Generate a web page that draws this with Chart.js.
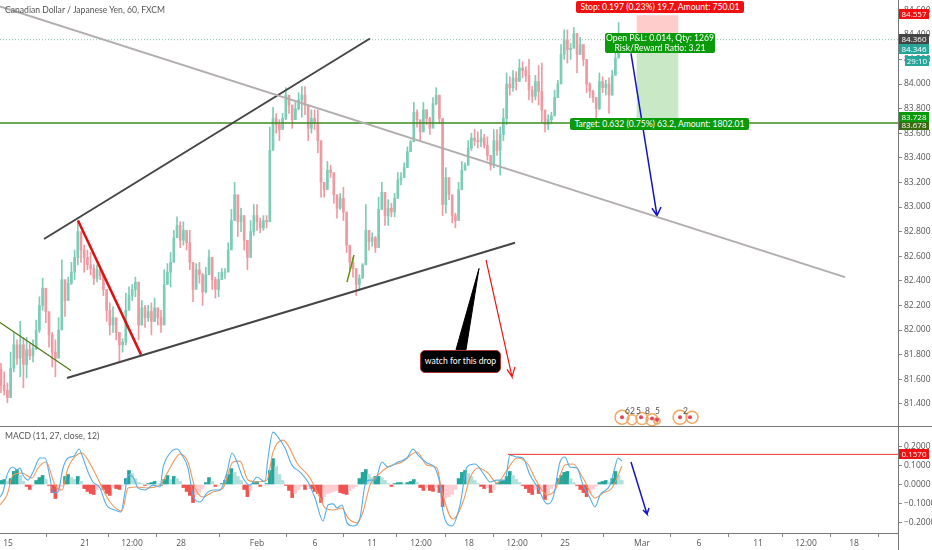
<!DOCTYPE html>
<html>
<head>
<meta charset="utf-8">
<title>CADJPY</title>
<script src="https://cdn.jsdelivr.net/npm/chart.js@4"></script>
<style>
  html, body { margin: 0; padding: 0; background: #fff; width: 932px; height: 550px; overflow: hidden; }
  body { font-family: "Lato", sans-serif; position: relative; }
  canvas { position: absolute; left: 0; }
  #priceChart { top: 0; }
  #macdChart { top: 426px; }
  .frame { position: absolute; background: #777; }
  .legend { position: absolute; left: 5px; font-size: 8.6px; color: #555; white-space: nowrap; }
  .note { position: absolute; color: #fff; text-align: center; font-size: 8.6px; line-height: 10px; border-radius: 2px; white-space: nowrap; }
  .tag { position: absolute; left: 899px; width: 30px; color: #fff; text-align: center; font-family: "Open Sans", sans-serif; font-size: 8px; line-height: 10px; height: 10px; }
  .evt { position: absolute; top: 406px; font-size: 8.5px; color: #555; }
  #callout { position: absolute; left: 420px; top: 350px; width: 79px; height: 21px; line-height: 21px; background: #000; border: 1px solid #a33; border-radius: 5px; color: #fff; font-size: 8.6px; text-align: center; box-sizing: content-box; }
</style>
</head>
<body>
<canvas id="priceChart" width="932" height="426"></canvas>
<canvas id="macdChart" width="932" height="124"></canvas>

<div class="frame" style="left:0;top:426px;width:932px;height:1px"></div>
<div class="frame" style="left:0;top:533px;width:898px;height:1px"></div>
<div class="frame" style="left:898px;top:0;width:1px;height:550px"></div>

<div class="legend" style="top:5px">Canadian Dollar / Japanese Yen, 60, FXCM</div>
<div class="legend" style="top:431px">MACD (11, 27, close, 12)</div>

<div class="note" style="left:576px;top:1px;width:168px;height:12px;line-height:12px;background:#f01010">Stop: 0.197 (0.23%) 19.7, Amount: 750.01</div>
<div class="note" style="left:605px;top:33px;width:110px;height:20px;background:#0a9a0a">Open P&amp;L: 0.014, Qty: 1269<br>Risk/Reward Ratio: 3.21</div>
<div class="note" style="left:570px;top:118px;width:179px;height:12px;line-height:12px;background:#0a9a0a">Target: 0.632 (0.75%) 63.2, Amount: 1802.01</div>

<div class="tag" style="top:9px;background:#f01010">84.557</div>
<div class="tag" style="top:34px;background:#444">84.360</div>
<div class="tag" style="top:44px;background:#26a69a">84.346</div>
<div class="tag" style="top:56px;left:905px;width:24px;background:#26a69a">29:10</div>
<div class="tag" style="top:120px;background:#3a6a10">83.678</div>
<div class="tag" style="top:112px;background:#0a9a0a">83.728</div>
<div class="tag" style="top:449px;background:#f01010">0.1570</div>

<div id="callout">watch for this drop</div>

<div class="evt" style="left:625px">6</div>
<div class="evt" style="left:630px">2</div>
<div class="evt" style="left:636px">5</div>
<div class="evt" style="left:645px">8</div>
<div class="evt" style="left:655px">5</div>
<div class="evt" style="left:683px">2</div>

<script>
// candles, one every 3.2 units along the session axis
const highs = [
  81.73,81.66,81.57,81.82,81.98,81.92,82.07,81.94,81.94,81.89,
  81.92,82.08,82.27,82.42,82.28,82.08,81.98,81.92,82.10,82.57,
  82.37,82.43,82.55,82.65,82.89,82.77,82.69,82.65,82.63,82.53,
  82.53,82.51,82.45,82.24,82.22,82.19,82.08,81.98,81.93,82.30,
  82.35,82.37,82.43,82.20,82.24,82.20,82.20,82.22,82.26,82.18,
  82.16,82.49,82.54,82.63,82.81,82.92,82.88,82.88,82.77,82.81,
  82.46,82.54,82.55,82.46,82.51,82.65,82.51,82.43,82.47,82.50,
  82.50,82.71,82.98,83.20,82.99,82.99,82.93,82.71,82.89,83.02,
  83.02,82.91,82.93,82.93,83.65,83.81,83.76,83.71,83.76,83.97,
  83.89,83.79,83.85,83.93,83.98,83.98,83.76,83.79,83.79,83.79,
  83.38,83.20,83.37,83.34,83.24,83.06,83.11,83.16,82.84,82.63,
  82.59,82.46,82.45,82.54,83.02,82.79,82.79,82.76,83.08,83.20,
  83.10,83.06,83.03,83.11,83.28,83.28,83.36,83.49,83.54,83.85,
  83.79,83.68,83.85,83.79,83.73,83.89,83.97,83.77,83.71,83.32,
  83.16,83.06,82.95,83.20,83.37,83.36,83.54,83.60,83.63,83.61,
  83.63,83.59,83.57,83.42,83.63,83.63,83.65,83.80,84.09,84.06,
  84.11,84.10,84.20,84.18,84.14,84.20,83.98,84.07,84.15,84.17,
  83.72,83.75,83.77,83.95,84.03,84.32,84.44,84.44,84.33,84.46,
  84.41,84.38,84.32,84.14,84.01,83.95,83.89,84.09,84.06,84.03,
  84.05,84.11,84.25,84.50];
const lows = [
  81.49,81.47,81.41,81.47,81.66,81.72,81.62,81.53,81.61,81.76,
  81.74,81.84,81.98,82.16,82.06,81.86,81.70,81.62,81.84,82.04,
  82.11,82.28,82.37,82.41,82.53,82.55,82.47,82.49,82.45,82.37,
  82.39,82.41,82.28,82.07,81.96,81.98,81.92,81.74,81.82,81.88,
  82.20,82.24,82.27,81.92,82.04,82.02,82.07,81.96,82.07,82.04,
  81.98,82.16,82.37,82.35,82.61,82.77,82.67,82.69,82.65,82.49,
  82.23,82.37,82.38,82.20,82.30,82.46,82.33,82.26,82.27,82.41,
  82.42,82.50,82.69,82.93,82.76,82.80,82.65,82.49,82.65,82.77,
  82.81,82.79,82.81,82.83,82.95,83.59,83.60,83.54,83.64,83.71,
  83.76,83.64,83.72,83.79,83.73,83.75,83.54,83.60,83.63,83.44,
  83.08,83.08,83.20,83.24,83.03,82.91,82.98,82.89,82.63,82.49,
  82.43,82.28,82.33,82.47,82.55,82.65,82.68,82.63,82.73,82.98,
  82.85,82.85,82.92,82.92,83.14,83.18,83.24,83.34,83.46,83.54,
  83.65,83.54,83.63,83.67,83.59,83.67,83.83,83.68,82.93,82.95,
  83.06,82.87,82.83,82.93,83.14,83.30,83.34,83.46,83.50,83.48,
  83.49,83.48,83.38,83.30,83.32,83.42,83.26,83.54,83.67,83.91,
  83.94,83.95,84.03,84.05,84.02,83.87,83.85,83.87,83.83,83.69,
  83.61,83.63,83.68,83.76,83.89,84.02,84.20,84.17,84.20,84.32,
  84.09,84.24,84.15,83.93,83.89,83.85,83.72,83.79,83.93,83.91,
  83.76,83.91,84.09,84.24];
const closes = [
  81.55,81.51,81.45,81.69,81.88,81.77,81.88,81.72,81.84,81.79,
  81.85,82.00,82.20,82.34,82.15,81.96,81.82,81.77,82.00,82.41,
  82.24,82.38,82.47,82.59,82.80,82.65,82.59,82.53,82.50,82.42,
  82.49,82.44,82.33,82.16,82.04,82.10,81.98,81.88,81.90,82.16,
  82.28,82.33,82.39,82.04,82.18,82.10,82.15,82.07,82.18,82.10,
  82.04,82.37,82.47,82.55,82.75,82.85,82.73,82.81,82.71,82.55,
  82.33,82.49,82.45,82.31,82.45,82.59,82.41,82.33,82.41,82.47,
  82.47,82.65,82.89,83.10,82.88,82.93,82.73,82.59,82.80,82.93,
  82.88,82.83,82.89,82.88,83.46,83.72,83.67,83.63,83.72,83.91,
  83.83,83.71,83.80,83.87,83.91,83.83,83.64,83.72,83.69,83.54,
  83.20,83.14,83.30,83.28,83.10,82.99,83.07,82.96,82.69,82.55,
  82.50,82.37,82.42,82.53,82.81,82.72,82.75,82.67,82.98,83.12,
  82.93,82.99,82.96,83.07,83.22,83.24,83.32,83.45,83.53,83.77,
  83.71,83.61,83.79,83.72,83.64,83.84,83.91,83.72,83.02,83.24,
  83.10,82.93,82.89,83.14,83.30,83.34,83.48,83.56,83.54,83.53,
  83.56,83.50,83.42,83.34,83.54,83.46,83.59,83.72,84.00,83.97,
  84.05,84.02,84.13,84.11,84.07,83.95,83.90,84.02,83.94,83.79,
  83.67,83.71,83.74,83.89,84.00,84.24,84.36,84.28,84.29,84.41,
  84.24,84.32,84.20,84.00,83.94,83.89,83.80,84.02,83.97,84.00,
  83.91,84.07,84.21,84.35];
const opens = [
  81.68,81.55,81.51,81.45,81.69,81.88,81.77,81.88,81.72,81.84,
  81.79,81.85,82.00,82.20,82.34,82.15,81.96,81.82,81.77,82.00,
  82.41,82.24,82.38,82.47,82.59,82.80,82.65,82.59,82.53,82.50,
  82.42,82.49,82.44,82.33,82.16,82.04,82.10,81.98,81.88,81.90,
  82.16,82.28,82.33,82.39,82.04,82.18,82.10,82.15,82.07,82.18,
  82.10,82.04,82.37,82.47,82.55,82.75,82.85,82.73,82.81,82.71,
  82.55,82.33,82.49,82.45,82.31,82.45,82.59,82.41,82.33,82.41,
  82.47,82.47,82.65,82.89,83.10,82.88,82.93,82.73,82.59,82.80,
  82.93,82.88,82.83,82.89,82.88,83.46,83.72,83.67,83.63,83.72,
  83.91,83.83,83.71,83.80,83.87,83.91,83.83,83.64,83.72,83.69,
  83.54,83.20,83.14,83.30,83.28,83.10,82.99,83.07,82.96,82.69,
  82.55,82.50,82.37,82.42,82.53,82.81,82.72,82.75,82.67,82.98,
  83.12,82.93,82.99,82.96,83.07,83.22,83.24,83.32,83.45,83.53,
  83.77,83.71,83.61,83.79,83.72,83.64,83.84,83.91,83.72,83.02,
  83.24,83.10,82.93,82.89,83.14,83.30,83.34,83.48,83.56,83.54,
  83.53,83.56,83.50,83.42,83.34,83.54,83.46,83.59,83.72,84.00,
  83.97,84.05,84.02,84.13,84.11,84.07,83.95,83.90,84.02,83.94,
  83.79,83.67,83.71,83.74,83.89,84.00,84.24,84.36,84.28,84.29,
  84.41,84.24,84.32,84.20,84.00,83.94,83.89,83.80,84.02,83.97,
  84.00,83.91,84.07,84.21];

// MACD pane
const histogram = [
  .021,.026,.016,.031,.068,.078,.047,.016,-.01,-.026,
  -.005,.021,.036,.047,.026,-.005,-.042,-.073,-.036,-.01,
  .042,.052,.036,.026,.042,.016,-.021,-.036,-.047,-.052,
  -.026,-.01,-.026,-.047,-.057,-.016,-.021,-.026,-.005,.031,
  .073,.057,.031,.01,.005,-.005,.005,.01,.016,.005,
  -.005,.026,.047,.026,.042,.031,.016,-.016,-.036,-.057,
  -.094,-.052,-.042,-.021,.01,.036,.016,-.01,-.005,.005,
  .021,.052,.083,.063,.042,.021,-.026,-.063,-.031,.01,
  .016,-.01,-.005,.005,.073,.135,.094,.052,.021,-.005,
  -.031,-.068,-.047,-.026,-.01,-.026,-.01,-.021,-.036,-.047,
  -.094,-.063,-.047,-.042,-.036,-.031,-.042,-.047,-.052,-.031,
  -.021,-.01,.031,.063,.078,.052,.036,.042,.042,.036,
  .021,.005,-.01,.005,.01,.01,.005,.01,.016,.026,
  .01,-.016,-.031,-.016,-.031,-.036,-.016,-.042,-.115,-.068,
  -.063,-.052,-.026,.031,.063,.073,.057,.042,.021,.005,
  -.01,-.021,-.016,-.042,-.026,.005,.016,.021,.042,.068,
  .047,.026,.01,-.005,-.021,-.042,-.052,-.026,-.047,-.036,
  -.078,-.052,-.021,-.005,.031,.047,.063,.068,.031,.01,
  -.005,-.026,-.042,-.063,-.042,-.026,-.01,.01,.016,.021,
  .01,.031,.068,.047,.021];
const macdPos = [0,3,7,13,17,20,23,28,33,40,45,50,53,58,63,68,74,79,83,88,93,100,105,108,115,121,125,128,133,138,145,153,160,163,170,177,182,188,193,200,207,213,220,227,232,237,243,250,257,265,268,273,278,285,292,300,308,315,323,328,333,337,342,347,353,360,365,370,375,382,388,398,407,413,418,427,435,440,443,452,460,467,475,483,490,497,505,510,517,523,530,538,547,553,560,565,570,577,583,590,595,600,610,615,618,622];
const macdLine = [-.065,-.039,.049,.091,.075,.086,.049,.023,.065,.138,.138,.034,-.044,-.039,.086,.138,.148,.185,.138,.065,.013,-.018,-.091,-.117,-.133,-.143,-.039,.049,.039,-.018,-.029,-.003,-.013,.086,.164,.185,.153,.086,-.055,-.091,-.044,-.029,-.029,.065,.164,.117,.034,-.003,.039,.013,.138,.273,.247,.19,.101,.065,.013,-.07,-.19,-.107,-.101,-.122,-.107,-.2,-.216,-.174,-.003,.023,.023,.117,.091,.117,.138,.185,.153,.112,.086,-.003,-.143,-.216,-.107,.091,.107,.06,.013,.023,.023,.153,.143,.138,.049,-.018,-.101,-.07,.117,.143,.091,.086,-.003,-.07,-.117,-.055,-.003,.091,.138,.122];
const signalPos = [0,7,13,22,32,38,46,55,62,68,82,88,100,110,122,128,137,147,160,170,180,188,195,203,213,223,233,240,248,257,267,273,283,288,297,310,320,325,333,342,348,357,363,370,378,388,402,417,427,437,442,453,463,470,478,488,497,507,517,527,537,547,555,565,573,583,595,603,612,622];
const signalLine = [-.107,-.055,.049,.06,.034,.086,.117,-.003,-.029,.086,.164,.127,.008,-.091,-.138,-.018,-.013,-.018,-.003,.086,.159,.117,-.018,-.065,-.039,-.018,.117,.122,.023,.013,.023,.169,.231,.205,.112,.034,-.07,-.122,-.133,-.122,-.174,-.2,-.143,-.003,.049,.091,.117,.169,.101,.086,-.039,-.18,-.091,.034,.086,.06,.008,.075,.138,.112,.013,-.055,-.029,.101,.107,.034,-.07,-.044,-.018,.096];

// drawings on the price pane: [session position], [price]
const fallLineX = [0, 845], fallLineY = [84.63, 82.43];
const upperLineX = [44, 370], upperLineY = [82.74, 84.37];
const lowerLineX = [67, 515], lowerLineY = [81.61, 82.71];
const redLegX = [78, 141], redLegY = [82.89, 81.80];
const shortGreenX = [0, 71], shortGreenY = [82.06, 81.67];
const tinyGreenX = [347, 354], tinyGreenY = [82.39, 82.61];
const blueArrowX = [631, 657, 652, 657, 661], blueArrowY = [84.25, 82.93, 82.99, 82.93, 83.00];
const redArrowX = [486, 512, 507, 512, 515], redArrowY = [82.57, 81.62, 81.68, 81.62, 81.70];
const calloutTailX = [479, 456, 466, 479], calloutTailY = [82.50, 81.84, 81.84, 82.50];
const lastPrice = 84.36, targetPrice = 83.683, stopPrice = 84.557;
const zoneCenter = 657.5;
const eventPos = [622, 632, 642, 652, 657, 680, 692];
const eventPrice = [81.29, 81.27, 81.28, 81.27, 81.26, 81.29, 81.29];
const eventSize = [7, 5, 6, 6, 3, 7, 6];
const dotPos = [622, 641, 652, 657, 680, 690];
const dotPrice = [81.29, 81.29, 81.28, 81.27, 81.29, 81.29];

// drawings on the MACD pane
const macdArrowX = [631, 647, 643, 647, 649], macdArrowY = [.117, -.154, -.133, -.154, -.122];
const macdLevelX = [508, 898], macdLevelY = [.157, .157];

// axes
const priceTicks = [81.4,81.6,81.8,82,82.2,82.4,82.6,82.8,83,83.2,83.4,83.6,83.8,84,84.2,84.4,84.6];
const macdTicks = [-.2,-.1,0,.1,.2];
const timeTickPos = [8,85,132,181,257,315,372,421,469,517,565,642,699,758,806,854];
const timeTickLabels = ["15","21","12:00","28","Feb","6","11","12:00","18","12:00","25","Mar","6","11","12:00","18"];

const xMax = 898;
const axisFont = { family: "'Open Sans', sans-serif", size: 8.5 };
const barPos = closes.map((c, i) => i * 3.2 + 1);
const histPos = histogram.map((h, i) => i * 3.2 + 1);
const upColor = "#7dcdb6", downColor = "#ee9aa2";

function pts(xs, ys) {
  return xs.map((x, i) => ({ x: x, y: ys[i] }));
}

function drawLine(xs, ys, color, width, extra) {
  return Object.assign({
    type: "line", data: pts(xs, ys), borderColor: color, borderWidth: width,
    pointRadius: 0, tension: 0, fill: false, order: 1
  }, extra || {});
}

function histColors() {
  return histogram.map((v, i) => {
    const prev = i > 0 ? histogram[i - 1] : 0;
    if (v >= 0) return v >= prev ? "#26a69a" : "#b2dfdb";
    return v < prev ? "#ef5350" : "#ffcdd2";
  });
}

// tick labels must not pull the chart area in from the canvas edges
function noPadding(s) {
  s.paddingTop = 0; s.paddingBottom = 0; s.paddingLeft = 0; s.paddingRight = 0;
}

function yScale(min, max, ticks, fmt) {
  return {
    position: "right", min: min, max: max,
    afterBuildTicks: (s) => { s.ticks = ticks.map((v) => ({ value: v })); },
    afterFit: (s) => { s.width = 34; noPadding(s); },
    grid: { drawOnChartArea: false, tickLength: 4, color: "#888" },
    border: { display: false },
    ticks: { font: axisFont, color: "#555", padding: 2, callback: fmt }
  };
}

const xBase = { type: "linear", min: 0, max: xMax, offset: false };

new Chart(document.getElementById("priceChart"), {
  type: "bar",
  data: {
    datasets: [
      drawLine(fallLineX, fallLineY, "#b3aeae", 2),
      drawLine(upperLineX, upperLineY, "#454545", 2),
      drawLine(lowerLineX, lowerLineY, "#454545", 2),
      drawLine(redLegX, redLegY, "#dd1111", 2.5),
      drawLine(shortGreenX, shortGreenY, "#4f7a14", 1.2),
      drawLine(tinyGreenX, tinyGreenY, "#5a9a10", 1.5),
      drawLine(blueArrowX, blueArrowY, "#1414c8", 1.5),
      drawLine(redArrowX, redArrowY, "#ee1111", 1.2),
      drawLine(calloutTailX, calloutTailY, "#000", 1, { fill: "shape", backgroundColor: "#000" }),
      drawLine([0, xMax], [targetPrice, targetPrice], "#3d8b1e", 1.6),
      drawLine([0, xMax], [lastPrice, lastPrice], "#7fc4b4", 1, { borderDash: [1, 2], order: 4 }),
      { type: "scatter", data: pts(dotPos, dotPrice), pointRadius: 2, pointBackgroundColor: "#e84060", pointBorderWidth: 0, order: 1 },
      { type: "scatter", data: pts(eventPos, eventPrice), pointRadius: eventSize, pointBackgroundColor: "rgba(0,0,0,0)", pointBorderColor: "#f0a860", pointBorderWidth: 1.5, order: 2 },
      // candle bodies and wicks
      { data: barPos.map((x, i) => ({ x: x, y: [opens[i], closes[i]] })), grouped: false, barThickness: 2, backgroundColor: closes.map((c, i) => c >= opens[i] ? upColor : downColor), order: 3 },
      { data: barPos.map((x, i) => ({ x: x, y: [lows[i], highs[i]] })), grouped: false, barThickness: 1, backgroundColor: closes.map((c, i) => c >= opens[i] ? upColor : downColor), order: 3 },
      // stop and target zones
      { data: [{ x: zoneCenter, y: [lastPrice, stopPrice] }], grouped: false, barThickness: 41, backgroundColor: "#ffcccc", order: 5 },
      { data: [{ x: zoneCenter, y: [targetPrice, lastPrice] }], grouped: false, barThickness: 41, backgroundColor: "#c9e9c6", order: 5 }
    ]
  },
  options: {
    responsive: false, animation: false, events: [],
    layout: { padding: 0, autoPadding: false },
    plugins: { legend: { display: false }, tooltip: { enabled: false } },
    scales: {
      x: Object.assign({}, xBase, { display: false, afterFit: noPadding }),
      y: yScale(81.2195, 84.683, priceTicks, (v) => v.toFixed(3))
    }
  }
});

new Chart(document.getElementById("macdChart"), {
  type: "bar",
  data: {
    datasets: [
      drawLine(macdArrowX, macdArrowY, "#1414c8", 1.5),
      drawLine(macdLevelX, macdLevelY, "#ee3322", 1),
      drawLine(macdPos, macdLine, "#55aee8", 1.1, { cubicInterpolationMode: "monotone", order: 2 }),
      drawLine(signalPos, signalLine, "#f0985a", 1.1, { cubicInterpolationMode: "monotone", order: 3 }),
      { data: histPos.map((x, i) => ({ x: x, y: histogram[i] })), barThickness: 3, backgroundColor: histColors(), order: 4 }
    ]
  },
  options: {
    responsive: false, animation: false, events: [],
    layout: { padding: 0, autoPadding: false },
    plugins: { legend: { display: false }, tooltip: { enabled: false } },
    scales: {
      x: Object.assign({}, xBase, {
        position: "bottom",
        afterBuildTicks: (s) => { s.ticks = timeTickPos.map((v) => ({ value: v })); },
        afterFit: (s) => { s.height = 17; noPadding(s); },
        grid: { drawOnChartArea: false, tickLength: 4, color: "#888" },
        border: { display: false },
        ticks: {
          font: axisFont, color: "#555", autoSkip: false, maxRotation: 0, padding: 1,
          callback: (v, i) => timeTickLabels[i]
        }
      }),
      y: yScale(-0.2526, 0.3047, macdTicks, (v) => (v < 0 ? "\u2212" + (-v).toFixed(4) : v.toFixed(4)))
    }
  }
});
</script>
</body>
</html>
